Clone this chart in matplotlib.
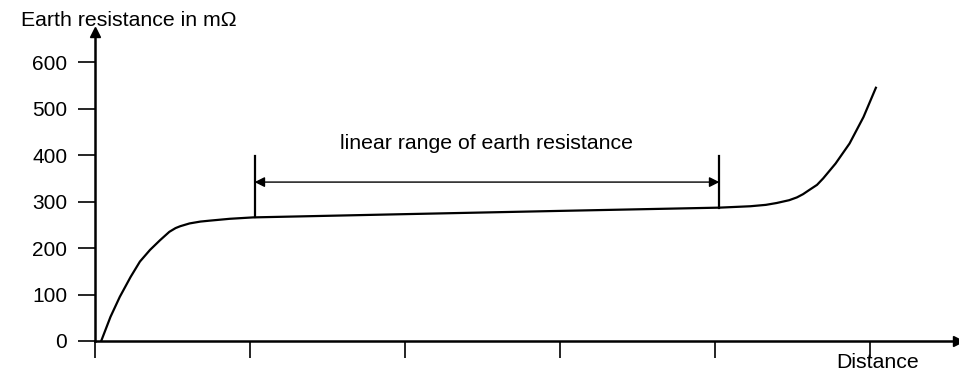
import matplotlib.pyplot as plt

plt.rcParams['font.family'] = ['Liberation Sans', 'DejaVu Sans']

# curve (distance in tick units, resistance in mOhm)
distance = [0.04, 0.10, 0.16, 0.23, 0.29, 0.355, 0.42, 0.48, 0.52, 0.55, 0.61,
            0.68, 0.74, 0.87, 1.02, 2.0, 3.0, 4.03, 4.23, 4.33, 4.40, 4.48,
            4.53, 4.57, 4.61, 4.66, 4.70, 4.78, 4.87, 4.96, 5.04]
resistance = [0, 52, 95, 138, 171, 196, 217, 235, 243, 247, 253,
              257, 259, 263, 266, 273, 280, 287, 290, 293, 297, 303,
              309, 316, 325, 336, 350, 382, 425, 482, 545]

y_ticks = [0, 100, 200, 300, 400, 500, 600]
x_ticks = [0, 1, 2, 3, 4, 5]

range_start = 1.03
range_end = 4.03

fig = plt.figure(figsize=(9.59, 3.73), dpi=100)
ax = fig.add_axes([95 / 959, 32 / 373, 863 / 959, 309 / 373])
ax.set_xlim(0, 5.57)
ax.set_ylim(0, 665)

for s in ['top', 'right']:
    ax.spines[s].set_visible(False)
ax.spines['left'].set_linewidth(1.8)
ax.spines['bottom'].set_linewidth(1.8)

# arrow heads on the axes
ax.plot(1, 0, '>k', transform=ax.transAxes, clip_on=False, markersize=7)
ax.plot(0, 1, '^k', transform=ax.transAxes, clip_on=False, markersize=7)

ax.set_yticks(y_ticks)
ax.set_yticklabels([str(v) for v in y_ticks], fontsize=15)
ax.set_xticks(x_ticks)
ax.set_xticklabels([])
ax.tick_params(axis='y', direction='out', length=12, width=1.2, pad=8)
ax.tick_params(axis='x', direction='out', length=12, width=1.2)

ax.plot(distance, resistance, color='black', linewidth=1.6)

# linear range markers
y_at_start = 266
y_at_end = 287
ax.plot([range_start, range_start], [y_at_start, 398], color='black', linewidth=1.6)
ax.plot([range_end, range_end], [y_at_end, 398], color='black', linewidth=1.6)
ax.annotate('', xy=(range_start, 342), xytext=(range_end, 342),
            arrowprops=dict(arrowstyle='<|-|>', color='black', lw=1,
                            mutation_scale=15, shrinkA=0, shrinkB=0))
ax.text((range_start + range_end) / 2, 405, 'linear range of earth resistance',
        ha='center', va='bottom', fontsize=15.3)

fig.text(21 / 959, 1 - 20 / 373, 'Earth resistance in m\u03a9', ha='left',
         va='center', fontsize=15.3)
ax.text(5.05, -47, 'Distance', ha='center', va='center', fontsize=15.3)

fig.savefig('out.png', dpi=100)
